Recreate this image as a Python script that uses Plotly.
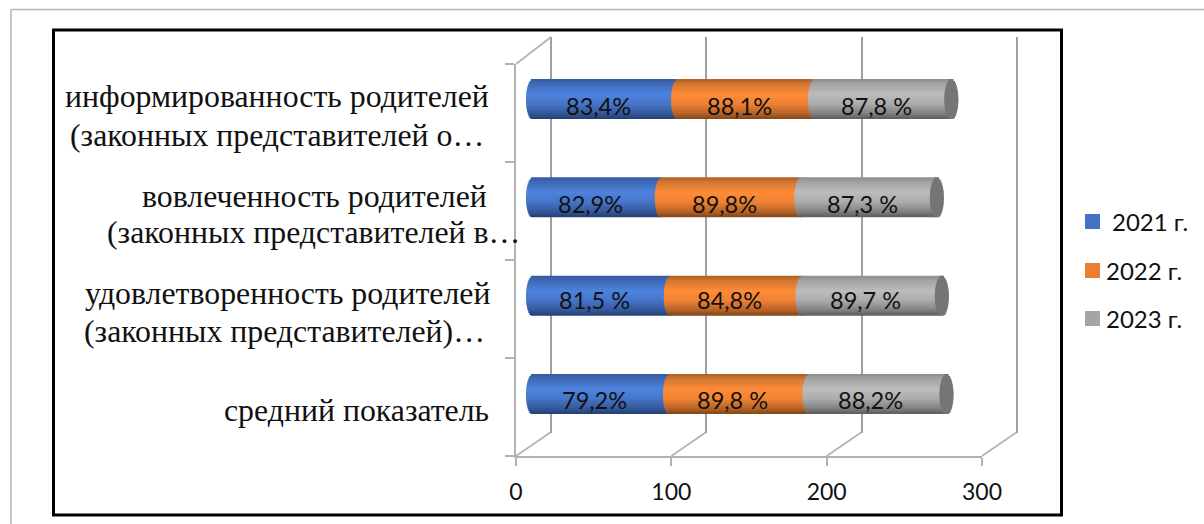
import plotly.graph_objects as go

# ---- data (bottom row first) ----
categories = [
    ["средний показатель"],
    ["удовлетворенность родителей", "(законных представителей)…"],
    ["вовлеченность родителей", "(законных представителей в…"],
    ["информированность родителей", "(законных представителей о…"],
]
series_names = ["2021 г.", "2022 г.", "2023 г."]
values_2021 = [88.2, 88.7, 82.9, 93.4]
values_2022 = [89.8, 84.8, 89.8, 88.1]
values_2023 = [88.2, 89.7, 87.3, 87.8]
labels_2021 = ["79,2%", "81,5 %", "82,9%", "83,4%"]
labels_2022 = ["89,8 %", "84,8%", "89,8%", "88,1%"]
labels_2023 = ["88,2%", "89,7 %", "87,3 %", "87,8 %"]
x_ticks = [0, 100, 200, 300]

# ---- style / layout ----
W, H = 1204, 524
GRID = "#a0a0a0"
AXIS = "#b2b2b2"
LEGEND_COLORS = ["#4472c4", "#ed7d31", "#a5a5a5"]
SHADES = [
    [(0, "#36599b"), (0.12, "#3f69b6"), (0.38, "#4d83dd"), (0.62, "#4675c9"), (0.85, "#35599c"), (1, "#223f70")],
    [(0, "#a95f27"), (0.12, "#d27631"), (0.38, "#ff8c37"), (0.62, "#ef8233"), (0.85, "#b96528"), (1, "#7f4519")],
    [(0, "#8c8c8c"), (0.12, "#a3a3a3"), (0.38, "#bcbcbc"), (0.62, "#ababab"), (0.85, "#838383"), (1, "#5c5c5c")],
]
FACE = "#757575"
N_BANDS = 20
BAR_PX = 40.0
RX_PX = 7.0
UNIT_X = (982 - 516) / 300
UNIT_Y = 98.33
PAD_UNITS = 20


def px(x):
    return x / W


def py(y):
    return 1 - y / H


def mix(stops, t):
    for (a, ca), (b, cb) in zip(stops, stops[1:]):
        if a <= t <= b:
            f = (t - a) / (b - a)
            rgb = [round(int(ca[i:i + 2], 16) * (1 - f) + int(cb[i:i + 2], 16) * f) for i in (1, 3, 5)]
            return "rgb(%d,%d,%d)" % tuple(rgb)
    return stops[-1][1]


fig = go.Figure()

# back wall carrying the gridlines, and the front axes
fig.add_trace(go.Scatter(x=[None], y=[None], xaxis="x2", yaxis="y2", showlegend=False, hoverinfo="skip"))
fig.add_trace(go.Scatter(x=[None], y=[None], xaxis="x", yaxis="y", showlegend=False, hoverinfo="skip"))

ys = list(range(len(categories)))
series = [values_2021, values_2022, values_2023]
starts = []
running = [0.0] * len(ys)
for vals in series:
    starts.append(list(running))
    running = [r + v for r, v in zip(running, vals)]
ends = running

band_h = BAR_PX / N_BANDS / UNIT_Y
half = BAR_PX / 2 / UNIT_Y
rx = RX_PX / UNIT_X
overlap = band_h * 0.6


def band_geometry(b):
    # top band first; each band reaches a little under the next one, which then paints over it
    span = band_h + (overlap if b < N_BANDS - 1 else 0)
    return span, half - (b + 1) * band_h - (overlap if b < N_BANDS - 1 else 0)


for s, vals in enumerate(series):
    for b in range(N_BANDS):
        tc = (b + 0.5) / N_BANDS
        t = 2 * tc - 1
        dx = rx * (1 - t * t) ** 0.5
        base = [v - dx for v in starts[s]]
        widths = [w + dx for w in vals]
        span, off = band_geometry(b)
        fig.add_trace(go.Bar(
            y=ys, x=widths, base=base, orientation="h",
            width=span, offset=off,
            marker=dict(color=mix(SHADES[s], tc), line=dict(width=0)),
            xaxis="x3", yaxis="y3", cliponaxis=False, showlegend=False,
            name=series_names[s], hoverinfo="skip",
        ))

# end cap of the cylinder
for b in range(N_BANDS):
    t = 2 * (b + 0.5) / N_BANDS - 1
    dx = rx * (1 - t * t) ** 0.5
    span, off = band_geometry(b)
    fig.add_trace(go.Bar(
        y=ys, x=[2 * dx] * len(ys), base=[e - dx for e in ends], orientation="h",
        width=span, offset=off,
        marker=dict(color=FACE, line=dict(width=0)),
        xaxis="x3", yaxis="y3", cliponaxis=False, showlegend=False, hoverinfo="skip",
    ))

shapes = []
line = lambda x0, y0, x1, y1, c, w: dict(
    type="line", xref="paper", yref="paper", x0=px(x0), y0=py(y0), x1=px(x1), y1=py(y1),
    line=dict(color=c, width=w), layer="below")
# outer page rule and black frame
shapes.append(line(11, 9.5, 1204, 9.5, "#b4b4b4", 1.5))
shapes.append(line(11, 9.5, 11, 524, "#b4b4b4", 1.5))
shapes.append(dict(type="rect", xref="paper", yref="paper", x0=px(53.5), y0=py(515), x1=px(1061.5), y1=py(30),
                   line=dict(color="#000000", width=3), layer="below"))
# floor and side wall diagonals
for t in x_ticks:
    x_front = 516 + t * UNIT_X
    shapes.append(line(x_front, 456, x_front + 35, 432, AXIS, 1.6))
shapes.append(line(516, 64, 551, 37, AXIS, 1.6))

annotations = []
# category labels, one annotation per printed line
right_edges = [[490.5], [492, 487], [489, 522], [490.5, 485.5]]
line_y = [[410], [293, 331], [196, 233], [97, 135]]
for cat, edges, yy in zip(categories, right_edges, line_y):
    for txt, e, y in zip(cat, edges, yy):
        annotations.append(dict(
            text=txt, xref="paper", yref="paper", x=px(e), y=py(y), xanchor="right", yanchor="middle",
            showarrow=False, font=dict(family="Liberation Serif", size=31.8, color="#111111"),
        ))
# value labels
label_rows = [labels_2021, labels_2022, labels_2023]
row_lift = [6, 4, 6.5, 7.5]
for s, vals in enumerate(series):
    for i in ys:
        annotations.append(dict(
            text=label_rows[s][i], xref="x3", yref="y3", x=starts[s][i] + vals[i] / 2, y=i,
            xshift=-7, yshift=-row_lift[i], xanchor="center", yanchor="middle", showarrow=False,
            font=dict(family="Lato", size=23.5, color="#111111"),
        ))
# legend key
key_y = [221.5, 270.5, 318.5]
key_text_x = [1110, 1104, 1104]
for name, col, ky, kx in zip(series_names, LEGEND_COLORS, key_y, key_text_x):
    shapes.append(dict(type="rect", xref="paper", yref="paper", x0=px(1085), x1=px(1100), y0=py(ky + 7.5), y1=py(ky - 7.5),
                       fillcolor=col, line=dict(width=0), layer="above"))
    annotations.append(dict(text=name, xref="paper", yref="paper", x=px(kx), y=py(ky), xanchor="left", yanchor="middle",
                            showarrow=False, font=dict(family="Lato", size=24, color="#111111")))

hidden = dict(showgrid=False, zeroline=False, showticklabels=False, ticks="", showline=False)
pad_px = PAD_UNITS * UNIT_X
fig.update_layout(
    width=W, height=H, autosize=False, margin=dict(l=0, r=0, t=0, b=0, pad=0),
    paper_bgcolor="white", plot_bgcolor="rgba(0,0,0,0)", barmode="overlay", showlegend=False,
    shapes=shapes, annotations=annotations,
    xaxis=dict(domain=[px(516), px(982)], range=[0, 300], tickvals=x_ticks, ticks="outside", ticklen=8, tickwidth=1.5,
               tickcolor=AXIS, showline=True, linecolor=AXIS, linewidth=1.6, showgrid=False, zeroline=False,
               tickfont=dict(family="Lato", size=23, color="#111111"), ticklabelstandoff=7, anchor="y", automargin=False),
    yaxis=dict(domain=[py(456), py(64)], range=[-0.5, 3.5], tickvals=[-0.5, 0.5, 1.5, 2.5, 3.5], ticks="outside", ticklen=9,
               tickwidth=1.5, tickcolor=AXIS, showline=True, linecolor=AXIS, linewidth=1.6, showgrid=False, zeroline=False,
               showticklabels=False, anchor="x", automargin=False),
    xaxis2=dict(domain=[px(551 - pad_px), px(1017 + pad_px)], range=[-PAD_UNITS, 300 + PAD_UNITS], tickvals=x_ticks,
                showgrid=True, gridcolor=GRID, gridwidth=2.4,
                zeroline=False, showticklabels=False, ticks="", showline=False, anchor="y2"),
    yaxis2=dict(domain=[py(432.5), py(37)], range=[-0.5, 3.5], anchor="x2", **hidden),
    xaxis3=dict(domain=[px(533 - pad_px), px(999 + pad_px)], range=[-PAD_UNITS, 300 + PAD_UNITS], anchor="y3", **hidden),
    yaxis3=dict(domain=[py(443.2), py(49.8)], range=[-0.5, 3.5], anchor="x3", **hidden),
)

fig.write_html("out.html", config={"displayModeBar": False},
               post_script="document.body.style.margin='0';document.body.style.overflow='hidden';")
